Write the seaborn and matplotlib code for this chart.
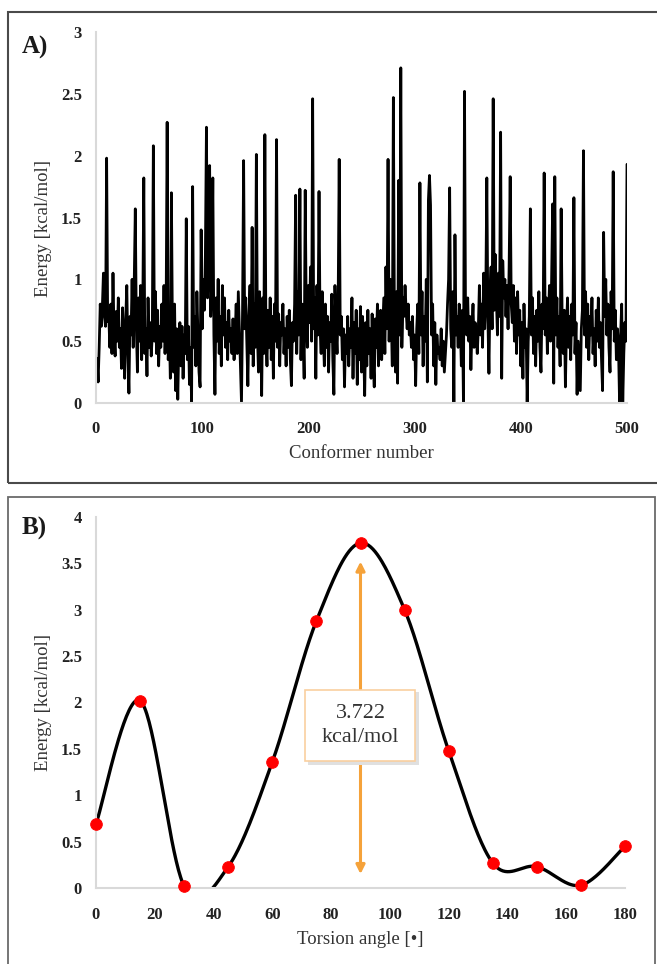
import matplotlib
matplotlib.use("Agg")
import matplotlib.pyplot as plt
from matplotlib.patches import Rectangle
import numpy as np
import pandas as pd
import seaborn as sns

sns.set_style("white")
plt.rcParams["font.family"] = ["Liberation Serif", "DejaVu Serif"]

# panel A: energy of each conformer (10 per row)
energy_conf = [
    0.36, 0.17, 0.45, 0.80, 0.62, 0.78, 1.05, 0.70, 0.62, 1.98,
    0.66, 0.72, 0.45, 0.80, 0.40, 1.05, 0.55, 0.38, 0.74, 0.50,
    0.85, 0.45, 0.60, 0.28, 0.77, 0.50, 0.20, 0.68, 0.95, 0.40,
    0.08, 0.70, 0.55, 1.00, 0.45, 0.98, 1.57, 0.60, 0.25, 0.85,
    0.50, 0.95, 0.35, 0.70, 1.82, 0.40, 0.60, 0.22, 0.85, 0.45,
    0.65, 0.38, 0.55, 2.08, 0.50, 0.90, 0.40, 0.75, 0.30, 0.62,
    0.45, 0.80, 0.50, 0.95, 0.40, 0.70, 2.27, 0.35, 0.60, 0.20,
    1.70, 0.55, 0.25, 0.80, 0.10, 0.60, 0.03, 0.50, 0.65, 0.30,
    0.62, 0.20, 0.55, 0.40, 1.49, 0.35, 0.62, 0.15, 0.45, 0.00,
    1.75, 0.45, 0.70, 0.30, 0.90, 0.55, 0.25, 0.13, 1.40, 0.60,
    1.00, 0.75, 1.20, 2.23, 0.85, 1.10, 1.92, 0.70, 1.00, 1.82,
    0.55, 0.07, 0.85, 0.50, 1.00, 0.40, 0.70, 0.30, 0.95, 0.55,
    0.85, 0.45, 0.65, 0.35, 0.75, 0.50, 0.60, 0.40, 0.68, 0.35,
    0.55, 0.80, 0.40, 0.90, 0.60, 0.30, 0.00, 0.75, 1.96, 0.60,
    0.85, 0.50, 0.14, 0.70, 0.95, 0.40, 1.42, 0.30, 0.80, 0.45,
    2.01, 0.55, 0.25, 0.90, 0.60, 0.06, 0.85, 0.40, 2.17, 0.55,
    0.30, 0.75, 0.45, 0.85, 0.35, 0.70, 0.20, 0.80, 0.50, 2.13,
    0.45, 0.72, 0.30, 0.65, 0.55, 0.80, 0.40, 0.60, 0.30, 0.70,
    0.45, 0.75, 0.35, 0.14, 0.65, 0.50, 0.80, 1.68, 0.40, 0.90,
    0.55, 1.73, 0.35, 0.80, 0.60, 0.20, 1.72, 0.70, 0.45, 0.95,
    0.65, 1.10, 0.50, 2.46, 0.60, 0.85, 0.20, 0.95, 0.55, 1.71,
    0.60, 0.40, 0.90, 0.55, 0.30, 0.80, 0.45, 0.70, 0.25, 0.65,
    0.50, 0.88, 0.35, 0.07, 0.95, 0.60, 0.40, 0.80, 1.97, 0.55,
    0.70, 0.35, 0.60, 0.13, 0.55, 0.40, 0.70, 0.30, 0.60, 0.45,
    0.85, 0.20, 0.65, 0.40, 0.75, 0.15, 0.60, 0.35, 0.78, 0.25,
    0.70, 0.45, 0.06, 0.65, 0.30, 0.75, 0.40, 0.60, 0.20, 0.72,
    0.35, 0.13, 0.68, 0.45, 0.80, 0.30, 0.55, 0.75, 0.35, 0.60,
    0.85, 0.40, 1.10, 0.60, 1.97, 0.50, 1.00, 0.70, 0.30, 2.47,
    0.65, 0.25, 0.90, 0.16, 1.80, 0.55, 2.71, 0.45, 0.85, 0.70,
    0.95, 0.75, 0.60, 0.80, 0.55, 0.65, 0.45, 0.70, 0.35, 0.55,
    0.14, 0.60, 0.80, 0.40, 1.78, 0.55, 0.90, 0.30, 0.70, 0.50,
    1.00, 0.17, 1.64, 1.84, 1.60, 0.55, 0.80, 0.30, 0.65, 0.15,
    0.55, 0.40, 0.45, 0.35, 0.60, 0.30, 0.50, 0.25, 0.40, 0.55,
    0.80, 1.00, 1.74, 0.60, 0.45, 0.90, 0.00, 1.36, 0.55, 0.70,
    0.45, 0.80, 0.65, 0.30, 0.75, 0.00, 2.52, 0.60, 0.55, 0.85,
    0.50, 0.70, 0.27, 0.60, 0.80, 0.45, 0.65, 0.55, 0.40, 0.60,
    0.95, 0.55, 0.80, 0.45, 1.05, 0.60, 0.85, 1.82, 0.70, 0.24,
    0.90, 1.10, 0.60, 2.46, 0.75, 1.20, 0.85, 0.55, 1.05, 0.70,
    2.19, 0.20, 1.15, 0.85, 1.00, 0.70, 0.95, 0.60, 1.10, 1.83,
    0.80, 0.65, 0.95, 0.50, 0.85, 0.40, 0.90, 0.55, 0.75, 0.30,
    0.65, 0.20, 0.80, 0.45, 0.60, 0.00, 0.50, 0.70, 1.57, 0.55,
    0.85, 0.40, 0.70, 0.30, 0.75, 0.50, 0.90, 0.45, 0.25, 0.80,
    0.60, 1.86, 0.55, 0.85, 0.40, 0.70, 0.95, 0.50, 1.00, 1.61,
    0.16, 1.83, 0.55, 0.85, 0.45, 0.70, 0.30, 1.57, 0.60, 0.40,
    0.75, 0.13, 0.60, 0.85, 0.45, 0.70, 0.35, 0.80, 0.55, 1.66,
    0.40, 0.65, 0.07, 0.50, 0.30, 0.10, 0.60, 0.75, 2.04, 0.55,
    0.90, 0.45, 0.80, 0.35, 0.70, 0.55, 0.85, 0.40, 0.60, 0.30,
    0.75, 0.50, 0.85, 0.45, 0.65, 0.35, 0.10, 1.38, 0.70, 1.00,
    0.55, 0.80, 0.45, 0.25, 0.90, 0.60, 1.87, 0.50, 0.75, 0.35,
    0.60, 0.45, 0.00, 0.55, 0.80, 0.00, 0.40, 0.65, 0.50, 1.93,
]
conformer = list(range(1, len(energy_conf) + 1))

# panel B: torsion scan
torsion = [0, 15, 30, 45, 60, 75, 90, 105, 120, 135, 150, 165, 180]
energy_tors = [0.69, 2.02, 0.02, 0.23, 1.36, 2.88, 3.72, 3.00, 1.48, 0.27, 0.23, 0.03, 0.45]
barrier_label = "3.722\nkcal/mol"


def smooth_curve(xs, ys, n=40):
    # Excel-like "smoothed line": bezier segments with catmull-rom control points
    p = np.column_stack([xs, ys]).astype(float)
    p = np.vstack([p[0], p, p[-1]])
    t = np.linspace(0, 1, n)[:, None]
    segs = []
    for i in range(1, len(p) - 2):
        p0, p1, p2, p3 = p[i - 1], p[i], p[i + 1], p[i + 2]
        c1 = p1 + (p2 - p0) / 6
        c2 = p2 - (p3 - p1) / 6
        segs.append((1 - t) ** 3 * p1 + 3 * (1 - t) ** 2 * t * c1 + 3 * (1 - t) * t ** 2 * c2 + t ** 3 * p2)
    return np.vstack(segs)


W, H = 657, 964
fig = plt.figure(figsize=(W / 100, H / 100), dpi=100)

axA = fig.add_axes([96 / W, 1 - 403 / H, 531 / W, 371 / H])
axB = fig.add_axes([96 / W, 1 - 888 / H, 529 / W, 371 / H])

dfA = pd.DataFrame({"conf": conformer, "E": energy_conf})
sns.lineplot(data=dfA, x="conf", y="E", ax=axA, color="black", lw=2.0, estimator=None)
axA.set_xlim(0, 500)
axA.set_ylim(0, 3)
axA.set_xticks(range(0, 501, 100))
axA.set_yticks(np.arange(0, 3.01, 0.5))
axA.set_yticklabels(["0", "0.5", "1", "1.5", "2", "2.5", "3"])

curve = smooth_curve(torsion, energy_tors)
dfC = pd.DataFrame({"x": curve[:, 0], "y": curve[:, 1]})
sns.lineplot(data=dfC, x="x", y="y", ax=axB, color="black", lw=2.4, sort=False, estimator=None)
dfB = pd.DataFrame({"angle": torsion, "E": energy_tors})
sns.scatterplot(data=dfB, x="angle", y="E", ax=axB, color="#ff0000", s=70,
                edgecolor="#ff0000", zorder=5, clip_on=False)
axB.set_xlim(0, 180)
axB.set_ylim(0, 4)
axB.set_xticks(range(0, 181, 20))
axB.set_yticks(np.arange(0, 4.01, 0.5))
axB.set_yticklabels(["0", "0.5", "1", "1.5", "2", "2.5", "3", "3.5", "4"])

# barrier arrow and label box
orange = "#f5a23a"
top_i = int(np.argmax(energy_tors))
axB.annotate("", xy=(torsion[top_i], 3.55), xytext=(torsion[top_i], 0.12),
             arrowprops=dict(arrowstyle="<|-|>", color=orange, lw=2.2, mutation_scale=13), zorder=2)
axB.add_patch(Rectangle((72.3, 1.33), 37.5, 0.78, facecolor="#e0e0e0", edgecolor="none", zorder=3))
axB.add_patch(Rectangle((71.2, 1.37), 37.5, 0.76, facecolor="white", edgecolor="#f9cf9f", lw=1.2, zorder=4))
axB.text(90, 1.75, barrier_label, ha="center", va="center", fontsize=16, color="#333333",
         linespacing=1.35, zorder=6)

for ax, xl, pad in [(axA, "Conformer number", 13), (axB, "Torsion angle [•]", 14)]:
    ax.set_xlabel(xl, fontsize=13.5, color="#333333")
    ax.set_ylabel("Energy [kcal/mol]", fontsize=13.5, color="#333333")
    ax.xaxis.label.set_va("center")
    ax.yaxis.label.set_va("center")
    ax.tick_params(length=0, labelsize=12, colors="#222222")
    ax.tick_params(axis="x", pad=pad)
    ax.tick_params(axis="y", pad=10)
    for lab in ax.get_xticklabels() + ax.get_yticklabels():
        lab.set_fontweight("bold")
    for s in ["top", "right"]:
        ax.spines[s].set_visible(False)
    for s in ["left", "bottom"]:
        ax.spines[s].set_color("#d9d9d9")
        ax.spines[s].set_linewidth(1.5)

axA.xaxis.set_label_coords(0.5, (403 - 453) / 371)
axA.yaxis.set_label_coords((43 - 96) / 531, 0.47)
axB.xaxis.set_label_coords(0.5, (888 - 940) / 371)
axB.yaxis.set_label_coords((43 - 96) / 529, 0.50)

fig.text(22 / W, 1 - 47 / H, "A)", fontsize=18, fontweight="bold", va="center", color="#1a1a1a")
fig.text(22 / W, 1 - 528 / H, "B)", fontsize=18, fontweight="bold", va="center", color="#1a1a1a")

# panel frames
fig.add_artist(Rectangle((8 / W, 1 - 483 / H), 660 / W, 471 / H, transform=fig.transFigure,
                         fill=False, edgecolor="#4a4a4a", lw=1.5))
fig.add_artist(Rectangle((8 / W, -0.02), 647 / W, 1 - 497 / H + 0.02, transform=fig.transFigure,
                         fill=False, edgecolor="#6a6a6a", lw=1.3))

fig.savefig("out.png", dpi=100)
